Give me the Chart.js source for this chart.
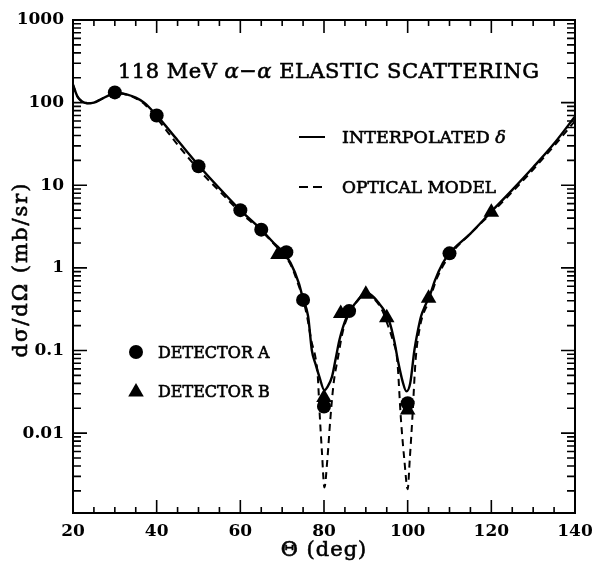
<!DOCTYPE html>
<html><head><meta charset="utf-8">
<script src="https://cdn.jsdelivr.net/npm/chart.js@4/dist/chart.umd.min.js"></script>
<style>html,body{margin:0;padding:0;background:#fff}</style>
</head><body>
<canvas id="c" width="597" height="561" style="width:597px;height:561px;display:block"></canvas>
<script>
// ---- data ----
const thetaInterp = [20,21,22,23.5,25,27,29,31,33,35,37,40,45,50,55,60,65,68,70,72,74,75,76.2,77.1,78,78.9,80.1,80.8,81.9,82.8,83.7,85.5,87.8,90,91.5,93,94.3,95.8,96.8,97.8,98.8,99.7,100.6,101.6,102.4,103.2,104.2,105.2,106.5,108.4,110,115,120,125,130,135,140];
const sigmaInterp = [165,120,105,98,100,112,125,130,125,115,100,70,35,17.5,9.2,5,2.9,2.0,1.6,1.15,0.65,0.42,0.26,0.10,0.068,0.048,0.033,0.036,0.048,0.08,0.135,0.26,0.39,0.5,0.46,0.38,0.31,0.21,0.13,0.07,0.042,0.032,0.040,0.10,0.17,0.26,0.35,0.45,0.7,1.14,1.5,2.6,4.8,8.8,16.5,32,68];
const thetaOptical = [20,21,22,23.5,25,27,29,31,33,35,37,40,45,50,55,60,65,70,72,74,75,76,77,78,78.5,79,79.5,80.1,80.8,81.5,82.3,83.3,84.5,86,88,90,92,94,95,96.5,97.5,98.4,99.2,100,100.5,101.1,101.9,103,104,105,107,110,115,120,125,130,135,140];
const sigmaOptical = [165,120,104,98,100,112,124,130,124,113,97,65,31,15.5,8.5,4.7,2.8,1.5,1.1,0.6,0.42,0.25,0.13,0.08,0.05,0.016,0.006,0.0022,0.0048,0.0145,0.04,0.08,0.17,0.28,0.4,0.47,0.42,0.3,0.22,0.13,0.077,0.0145,0.0048,0.0021,0.0048,0.0145,0.077,0.2,0.3,0.38,0.75,1.4,2.6,4.6,8.3,15.5,30,60];
const thetaDetA = [30,40,50,60,65,71,75,80,86,100,110];
const sigmaDetA = [133,70,17,5,2.9,1.55,0.41,0.021,0.30,0.023,1.5];
const thetaDetB = [69,80,84,90,95,100,105,120];
const sigmaDetB = [1.45,0.027,0.28,0.48,0.25,0.019,0.43,4.7];
const xTickValues = [20,40,60,80,100,120,140];
const yTickValues = [0.01,0.1,1,10,100,1000];
const yTickLabels = ['0.01','0.1','1','10','100','1000'];

const toXY = (xs, ys) => xs.map((x, i) => ({x: x, y: ys[i]}));

const FONT = "'DejaVu Serif'";

function drawParts(ctx, parts, x, y, size, spacing) {
  let tx = x;
  ctx.letterSpacing = spacing + 'px';
  ctx.lineWidth = 0.6;
  for (const [s, st] of parts) {
    ctx.font = st + size + 'px ' + FONT;
    ctx.fillText(s, tx, y);
    ctx.strokeText(s, tx, y);
    tx += ctx.measureText(s).width;
  }
  ctx.letterSpacing = '0px';
}

const framePlugin = {
  id: 'frame',
  afterDraw(chart) {
    const {ctx, chartArea: a, scales: {x, y}} = chart;
    ctx.save();
    ctx.strokeStyle = '#000';
    ctx.lineWidth = 2;
    ctx.strokeRect(a.left, a.top, a.right - a.left, a.bottom - a.top);
    ctx.lineWidth = 1.6;
    ctx.beginPath();
    for (let t = 20; t <= 140; t += 5) {
      const px = x.getPixelForValue(t);
      const len = (t % 20 === 0) ? 13 : 6;
      ctx.moveTo(px, a.bottom); ctx.lineTo(px, a.bottom - len);
      ctx.moveTo(px, a.top); ctx.lineTo(px, a.top + len);
    }
    for (let e = -3; e <= 2; e++) {
      for (let m = 1; m <= 10; m++) {
        const v = m * Math.pow(10, e);
        if (v < y.min || v > y.max) continue;
        const py = y.getPixelForValue(v);
        const len = (m === 1 || m === 10) ? 14 : 8;
        ctx.moveTo(a.left, py); ctx.lineTo(a.left + len, py);
        ctx.moveTo(a.right, py); ctx.lineTo(a.right - len, py);
      }
    }
    ctx.stroke();

    ctx.fillStyle = '#000';
    ctx.textBaseline = 'alphabetic';
    ctx.textAlign = 'left';
    drawParts(ctx, [['118 MeV ', ''], ['α', 'italic '], ['−', ''], ['α', 'italic '], [' ELASTIC SCATTERING', '']], 118, 78, 21, 0.5);

    drawParts(ctx, [['INTERPOLATED ', ''], ['δ', 'italic ']], 342, 143, 17.5, 0);
    drawParts(ctx, [['OPTICAL MODEL', '']], 342, 193, 17, 0);
    ctx.lineWidth = 2;
    ctx.beginPath();
    ctx.moveTo(299, 137); ctx.lineTo(325, 137);
    ctx.stroke();
    ctx.beginPath();
    ctx.moveTo(299, 187); ctx.lineTo(308, 187);
    ctx.moveTo(313, 187); ctx.lineTo(322, 187);
    ctx.stroke();

    drawParts(ctx, [['DETECTOR A', '']], 158, 358, 16, 0);
    drawParts(ctx, [['DETECTOR B', '']], 158, 397, 16, 0);
    ctx.beginPath();
    ctx.arc(136, 352, 7, 0, Math.PI * 2);
    ctx.fill();
    const r = 9, cx = 136, cy = 392;
    ctx.beginPath();
    ctx.moveTo(cx, cy - r);
    ctx.lineTo(cx + r * Math.sin(2 * Math.PI / 3), cy - r * Math.cos(2 * Math.PI / 3));
    ctx.lineTo(cx + r * Math.sin(4 * Math.PI / 3), cy - r * Math.cos(4 * Math.PI / 3));
    ctx.closePath();
    ctx.fill();

    // axis titles
    ctx.textAlign = 'center';
    ctx.lineWidth = 0.6;
    ctx.letterSpacing = '1px';
    ctx.font = '21px ' + FONT;
    ctx.fillText('Θ (deg)', (a.left + a.right) / 2, 556);
    ctx.strokeText('Θ (deg)', (a.left + a.right) / 2, 556);
    ctx.save();
    ctx.translate(27, (a.top + a.bottom) / 2 + 3);
    ctx.rotate(-Math.PI / 2);
    ctx.letterSpacing = '2px';
    ctx.fillText('dσ/dΩ (mb/sr)', 0, 0);
    ctx.strokeText('dσ/dΩ (mb/sr)', 0, 0);
    ctx.restore();
    ctx.letterSpacing = '0px';
    ctx.restore();
  }
};

new Chart(document.getElementById('c'), {
  type: 'scatter',
  data: {
    datasets: [
      {label: 'DETECTOR A', data: toXY(thetaDetA, sigmaDetA), pointStyle: 'circle', pointRadius: 7,
       backgroundColor: '#000', borderColor: '#000', borderWidth: 0, order: 0},
      {label: 'DETECTOR B', data: toXY(thetaDetB, sigmaDetB), pointStyle: 'triangle', pointRadius: 9,
       backgroundColor: '#000', borderColor: '#000', borderWidth: 0, order: 0},
      {label: 'INTERPOLATED δ', data: toXY(thetaInterp, sigmaInterp), showLine: true, pointRadius: 0,
       borderColor: '#000', borderWidth: 2.4, cubicInterpolationMode: 'monotone', fill: false, order: 1},
      {label: 'OPTICAL MODEL', data: toXY(thetaOptical, sigmaOptical), showLine: true, pointRadius: 0,
       borderColor: '#000', borderWidth: 2, borderDash: [7, 5], cubicInterpolationMode: 'monotone', fill: false, order: 2}
    ]
  },
  options: {
    responsive: false,
    animation: false,
    devicePixelRatio: 1,
    layout: {padding: {top: 20, right: 22, left: 0, bottom: 0}},
    plugins: {legend: {display: false}, tooltip: {enabled: false}},
    scales: {
      x: {
        type: 'linear', min: 20, max: 140,
        grid: {display: false, drawTicks: false},
        border: {display: false},
        afterBuildTicks: s => { s.ticks = xTickValues.map(v => ({value: v})); },
        afterFit: s => { s.height = 48; s.paddingLeft = 0; s.paddingRight = 0; },
        ticks: {color: '#000', padding: 8, maxRotation: 0, autoSkip: false,
                font: {family: FONT, size: 17, weight: 'bold'}},
        title: {display: false}
      },
      y: {
        type: 'logarithmic', min: 0.00108, max: 1000,
        grid: {display: false, drawTicks: false},
        border: {display: false},
        afterBuildTicks: s => { s.ticks = yTickValues.map(v => ({value: v})); },
        afterFit: s => { s.width = 73; s.paddingTop = 0; s.paddingBottom = 0; },
        ticks: {color: '#000', padding: 9, autoSkip: false,
                callback: (v) => { const i = yTickValues.indexOf(v); return i >= 0 ? yTickLabels[i] : ''; },
                font: {family: FONT, size: 17, weight: 'bold'}},
        title: {display: false}
      }
    }
  },
  plugins: [framePlugin]
});
</script>
</body></html>
